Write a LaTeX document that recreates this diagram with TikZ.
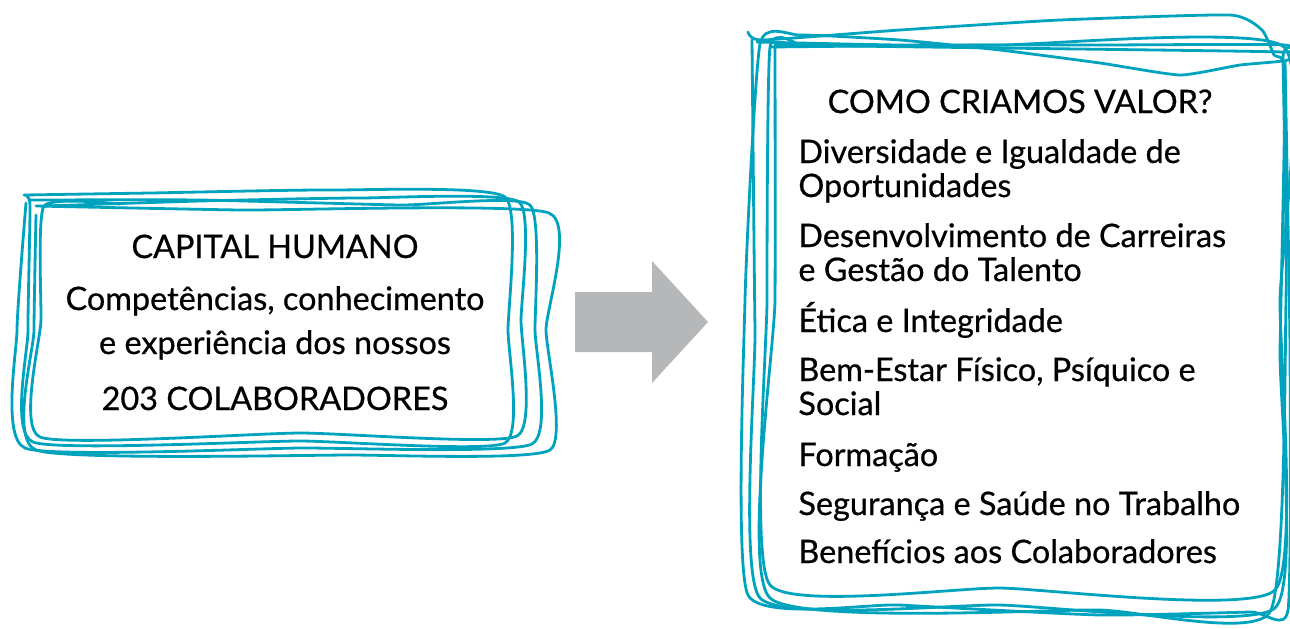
\documentclass[tikz,border=0pt]{standalone}
\usepackage{fontspec}
\setmainfont{Lato}[FakeBold=0.6]
\definecolor{sketch}{RGB}{0,163,190}
\definecolor{arrowgray}{RGB}{182,183,185}
\tikzset{
  sk/.style={draw=sketch, line width=1.4pt, line join=round, line cap=round},
  txt/.style={inner sep=0pt, font=\fontsize{16.2}{19}\selectfont, text=black},
}
\begin{document}
\begin{tikzpicture}[x=0.5pt,y=-0.5pt]
\useasboundingbox (0,0) rectangle (1290,628);
% ---------- left sketchy box ----------
\draw[sk] plot[smooth, tension=0.3] coordinates {(44,206) (200,201) (360,198) (519,202) (521,320) (517,436) (300,433) (40,437) (41,320) (44,206) (120,204)};
\draw[sk] plot[smooth, tension=0.3] coordinates {(24,195) (150,193) (330,190) (505,197) (508,330) (505,443) (300,441) (33,442) (28,330) (30,205) (24,195)};
\draw[sk] plot[smooth, tension=0.3] coordinates {(30,200) (200,200) (400,205) (530,205) (535,330) (532,444) (300,448) (25,448) (17,330) (26,203)};
\draw[sk] plot[smooth, tension=0.3] coordinates {(36,206) (240,210) (549,213) (546,330) (550,450) (350,455) (36,450) (34,330) (36,215)};
% ---------- arrow ----------
\fill[arrowgray] (575,292) -- (652,292) -- (652,261) -- (708,322) -- (652,383) -- (652,352) -- (575,352) -- cycle;
\coordinate (arr) at (640,322);
% ---------- right sketchy box ----------
\draw[sk] plot[smooth, tension=0.3] coordinates {(770,47) (1000,45) (1284,47) (1280,300) (1275,590) (1000,588) (770,585) (767,300) (770,47) (800,46)};
\draw[sk] plot[smooth, tension=0.3] coordinates {(748,32) (762,40) (900,30) (1060,20) (1230,15) (1262,30) (1274,55) (1285,75) (1280,350) (1275,608) (1000,605) (760,598) (755,330) (752,40)};
\draw[sk] plot[smooth, tension=0.3] coordinates {(757,42) (900,45) (1100,45) (1285,45) (1288,60) (1240,65) (1180,75) (1100,63) (1000,50) (900,40) (800,35) (760,44) (745,300) (748,595) (900,605) (1100,615) (1250,612) (1288,610) (1290,350) (1285,62)};
\draw[sk] plot[smooth, tension=0.3] coordinates {(775,45) (1000,48) (1283,52) (1283,58) (1286,300) (1270,612) (1100,610) (770,598) (775,300) (775,45)};
% ---------- left texts ----------
\node[txt, anchor=base] (lt1) at (275,258) {CAPITAL HUMANO};
\node[txt, anchor=base] (lt2) at (275,310) {Competências, conhecimento};
\node[txt, anchor=base] (lt3) at (275,354) {e experiência dos nossos};
\node[txt, anchor=base] (lt4) at (275,410) {203 COLABORADORES};
% ---------- right texts ----------
\node[txt, anchor=base] (rt0) at (1020,113) {COMO CRIAMOS VALOR?};
\node[txt, anchor=base west] (r1) at (798,163) {Diversidade e Igualdade de};
\node[txt, anchor=base west] (r2) at (798,197) {Oportunidades};
\node[txt, anchor=base west] (r3) at (798,247) {Desenvolvimento de Carreiras};
\node[txt, anchor=base west] (r4) at (798,281) {e Gestão do Talento};
\node[txt, anchor=base west] (r5) at (798,332) {Ética e Integridade};
\node[txt, anchor=base west] (r6) at (798,381) {Bem-Estar Físico, Psíquico e};
\node[txt, anchor=base west] (r7) at (798,415) {Social};
\node[txt, anchor=base west] (r8) at (798,466) {Formação};
\node[txt, anchor=base west] (r9) at (798,515) {Segurança e Saúde no Trabalho};
\node[txt, anchor=base west] (r10) at (798,563) {Benefícios aos Colaboradores};
\end{tikzpicture}
\end{document}
